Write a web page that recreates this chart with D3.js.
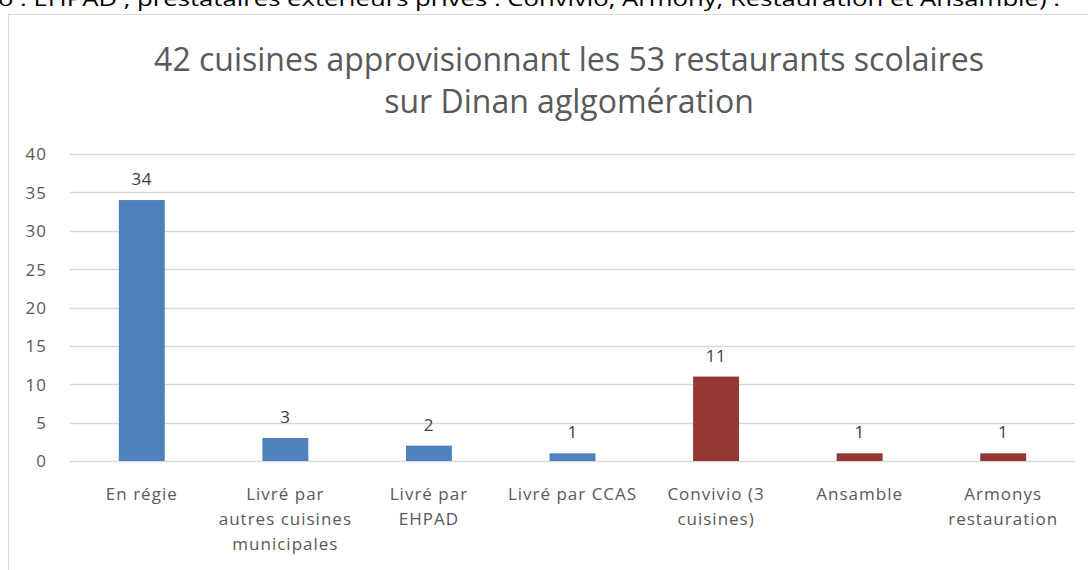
<!DOCTYPE html>
<html><head><meta charset="utf-8">
<script src="https://cdn.jsdelivr.net/npm/d3@7"></script>
<style>body{margin:0;background:#fff;overflow:hidden}svg{display:block}</style>
</head><body>
<svg id="c" width="1088" height="570"></svg>
<script>
const categories = [
  ["En régie"],
  ["Livré par", "autres cuisines", "municipales"],
  ["Livré par", "EHPAD"],
  ["Livré par CCAS"],
  ["Convivio (3", "cuisines)"],
  ["Ansamble"],
  ["Armonys", "restauration"]
];
const values = [34, 3, 2, 1, 11, 1, 1];
const groups = ["public", "public", "public", "public", "prive", "prive", "prive"];
const yTicks = [0, 5, 10, 15, 20, 25, 30, 35, 40];
const titleLines = ["42 cuisines approvisionnant les 53 restaurants scolaires", "sur Dinan aglgomération"];
const topText = "o : EHPAD , prestataires extérieurs privés : Convivio, Armony, Restauration et Ansamble) :";

const svg = d3.select("#c");
const font = "'Open Sans', 'Liberation Sans', sans-serif";
const txt = "#595959";

// cut-off text line above the chart frame
svg.append("text").attr("x", -2).attr("y", 6).attr("font-family", font)
  .attr("font-size", 20).attr("fill", "#000").text(topText)
  .attr("textLength", 1062).attr("lengthAdjust", "spacingAndGlyphs");

// chart frame
svg.append("rect").attr("x", 8.5).attr("y", 14.5).attr("width", 1100).attr("height", 600)
  .attr("fill", "#fff").attr("stroke", "#d9d9d9").attr("stroke-width", 1);

const pLeft = 70, pRight = 1075, pTop = 154, pBottom = 461;
const x = d3.scaleBand().domain(d3.range(categories.length)).range([pLeft, pRight]).paddingInner(0.68).paddingOuter(0.34);
const y = d3.scaleLinear().domain([0, 40]).range([pBottom, pTop]);

// gridlines
svg.append("g").selectAll("line").data(yTicks).join("line")
  .attr("x1", pLeft).attr("x2", pRight)
  .attr("y1", d => Math.round(y(d)) + 0.5).attr("y2", d => Math.round(y(d)) + 0.5)
  .attr("stroke", "#d9d9d9").attr("stroke-width", 1.3);

// y axis labels
const ya = svg.append("g").attr("transform", `translate(47,0)`)
  .call(d3.axisLeft(y).tickValues(yTicks).tickSize(0).tickPadding(0));
ya.select(".domain").remove();
ya.selectAll("text").attr("font-family", font).attr("font-size", 17).attr("letter-spacing", 1)
  .attr("fill", txt).attr("dy", "0.35em");

// bars
const colors = {public: "#4f81bd", prive: "#953735"};
svg.append("g").selectAll("rect").data(values).join("rect")
  .attr("x", (d, i) => x(i)).attr("width", x.bandwidth())
  .attr("y", d => y(d)).attr("height", d => y(0) - y(d))
  .attr("fill", (d, i) => colors[groups[i]]);

// value labels
svg.append("g").selectAll("text").data(values).join("text")
  .attr("x", (d, i) => x(i) + x.bandwidth() / 2).attr("y", d => y(d) - 15)
  .attr("text-anchor", "middle").attr("font-family", font).attr("font-size", 17).attr("letter-spacing", 0.5)
  .attr("fill", "#404040").text(d => d);

// x axis category labels
const xa = svg.append("g").attr("transform", `translate(0,${pBottom})`)
  .call(d3.axisBottom(x).tickSize(0).tickFormat(() => ""));
xa.select(".domain").remove();
xa.selectAll(".tick").each(function(i) {
  const t = d3.select(this).append("text").attr("fill", txt).attr("font-family", font)
    .attr("font-size", 17).attr("letter-spacing", 1).attr("text-anchor", "middle");
  categories[i].forEach((line, k) => {
    t.append("tspan").attr("x", 0).attr("y", 39 + k * 25).text(line);
  });
});

// title
svg.append("g").selectAll("text").data(titleLines).join("text")
  .attr("x", 569).attr("y", (d, i) => 71 + i * 42).attr("text-anchor", "middle")
  .attr("font-family", font).attr("font-size", 32).attr("fill", txt).text(d => d);
</script>
</body></html>
